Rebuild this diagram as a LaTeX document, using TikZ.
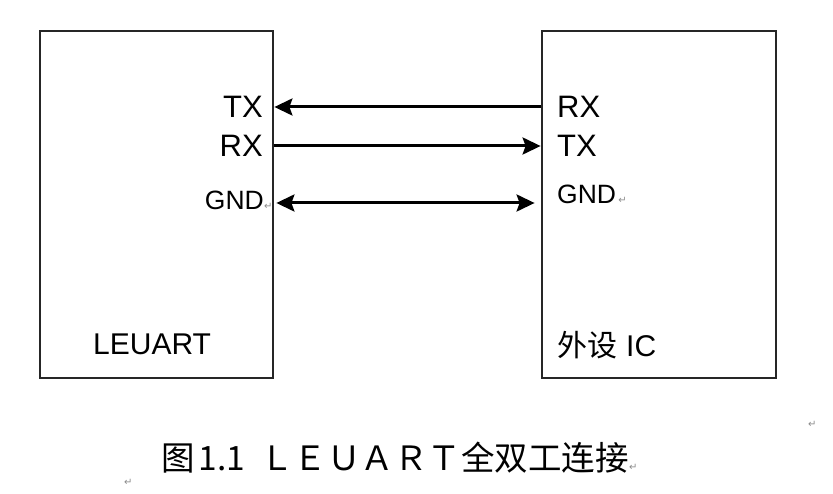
\documentclass[tikz,border=0pt]{standalone}
\usepackage{fontspec}
\setmainfont{Liberation Sans}
\newfontfamily\cjk{Noto Sans CJK SC}
\newfontfamily\djv{DejaVu Sans}
\usetikzlibrary{arrows.meta}
\begin{document}
\begin{tikzpicture}[x=1pt,y=-1pt,
  box/.style={draw=black!85, line width=2.8pt, minimum height=347pt, inner sep=0pt},
  pin/.style={font=\fontsize{31}{36}\selectfont, inner sep=0pt},
  gndlbl/.style={font=\fontsize{26.5}{31}\selectfont, inner sep=0pt},
  pmark/.style={font=\djv\fontsize{10}{12}\selectfont, text=black!45, inner sep=0pt},
  title/.style={font=\fontsize{30}{36}\selectfont, inner sep=0pt},
  wire/.style={line width=3pt, black},
  >={Stealth[length=18pt,width=17pt,inset=3pt]}
]
\useasboundingbox (0,0) rectangle (833,494);
% boxes
\node[box, minimum width=233pt] (L) at (156.5,204.5) {};
\node[box, minimum width=234pt] (R) at (659,204.5) {};
% connector ends
\coordinate (ltx) at (L.east |- 0,107);
\coordinate (lrx) at (L.east |- 0,146);
\coordinate (lgnd) at (L.east |- 0,203);
\coordinate (rrx) at (R.west |- 0,107);
\coordinate (rtx) at (R.west |- 0,146);
\coordinate (rgnd) at (R.west |- 0,203);
% wires
\draw[wire,->] (rrx) -- (ltx);
\draw[wire,->] (lrx) -- (rtx);
\draw[wire,<->, shorten <=2pt, shorten >=6pt] (lgnd) -- (rgnd);
% left labels
\node[pin, anchor=base east] (lTX) at (263,118) {TX};
\node[pin, anchor=base east] (lRX) at (263,157) {RX};
\node[gndlbl, anchor=base east] (lGND) at (264,210) {GND};
\node[pmark, anchor=base west] (lGNDm) at (lGND.base east) {↵};
\node[title, anchor=base west] (lname) at (93,355) {LEUART};
% right labels
\node[pin, anchor=base west] (rRX) at (557,118) {RX};
\node[pin, anchor=base west] (rTX) at (557,157) {TX};
\node[gndlbl, anchor=base west] (rGND) at (557,204) {GND};
\node[pmark, anchor=base west] (rGNDm) at ([xshift=2pt]rGND.base east) {↵};
\node[title, anchor=base west] (rname) at (557,357) {{\cjk 外设}\hspace{9pt}IC};
% caption
\node[inner sep=0pt, anchor=base west, font=\cjk\fontsize{33.5}{40}\selectfont] (cap) at (161,470)
  {图\hspace{4pt}1.1\hspace{15pt}ＬＥＵＡＲＴ全双工连接};
\node[pmark, anchor=base west] (capm) at (cap.base east) {↵};
\node[pmark, anchor=base west] (m1) at (808,428) {↵};
\node[pmark, anchor=base west] (m2) at (124,485) {↵};
\end{tikzpicture}
\end{document}
